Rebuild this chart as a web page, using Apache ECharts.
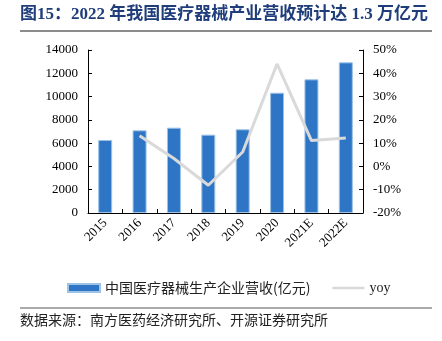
<!DOCTYPE html>
<html><head><meta charset="utf-8">
<script src="https://cdn.jsdelivr.net/npm/echarts@6/dist/echarts.min.js"></script>
<style>html,body{margin:0;padding:0;background:#fff}#c{width:442px;height:341px}</style>
</head><body><div id="c"></div>
<script>
const categories = ['2015','2016','2017','2018','2019','2020','2021E','2022E'];
const revenue = [6270, 7100, 7330, 6730, 7190, 10330, 11480, 12940];
const yoy = [null, 13.2, 3.4, -8.1, 6.2, 44.0, 11.1, 12.2];
const leftTicks = [0, 14000, 2000];
const rightTicks = [-20, 50, 10];
const serif = '"Liberation Serif","DejaVu Serif",serif';
const cjk = '"Noto Sans CJK SC",sans-serif';
const chart = echarts.init(document.getElementById('c'));
chart.setOption({
  animation: false,
  grid: {left: 88, right: 79, top: 50, bottom: 128},
  legend: {
    top: 276, left: 62, itemGap: 22, itemWidth: 32, itemHeight: 8,
    textStyle: {fontFamily: cjk, fontSize: 14, color: '#222'},
    data: [
      {name: '中国医疗器械生产企业营收(亿元)', icon: 'rect'},
      {name: 'yoy', icon: 'path://M0,0L32,0L32,2.5L0,2.5Z', textStyle: {fontFamily: serif, fontSize: 14}}
    ]
  },
  xAxis: {
    type: 'category', data: categories,
    axisLine: {lineStyle: {color: '#000', width: 1}},
    axisTick: {show: true, inside: true, length: 4, lineStyle: {color: '#000'}},
    axisLabel: {rotate: 45, fontFamily: serif, fontSize: 13, color: '#000', margin: 8}
  },
  yAxis: [{
    type: 'value', min: leftTicks[0], max: leftTicks[1], interval: leftTicks[2],
    splitLine: {show: false},
    axisLine: {show: true, lineStyle: {color: '#000'}},
    axisTick: {show: true, inside: true, length: 4, lineStyle: {color: '#000'}},
    axisLabel: {fontFamily: serif, fontSize: 13, color: '#000', margin: 10, formatter: v => String(v)}
  }, {
    type: 'value', min: rightTicks[0], max: rightTicks[1], interval: rightTicks[2],
    splitLine: {show: false},
    axisLine: {show: true, lineStyle: {color: '#000'}},
    axisTick: {show: true, inside: true, length: 4, lineStyle: {color: '#000'}},
    axisLabel: {fontFamily: serif, fontSize: 13, color: '#000', margin: 10, formatter: '{value}%'}
  }],
  series: [{
    name: '中国医疗器械生产企业营收(亿元)', type: 'bar', data: revenue, barWidth: 14,
    itemStyle: {color: '#2E75C6', borderColor: '#9DC3E6', borderWidth: 1}
  }, {
    name: 'yoy', type: 'line', yAxisIndex: 1, data: yoy, symbol: 'none',
    lineStyle: {color: '#D9D9D9', width: 3}, itemStyle: {color: '#D9D9D9'}
  }],
  graphic: [
    {type: 'text', left: 20, top: 6, style: {text: '图15：2022 年我国医疗器械产业营收预计达 1.3 万亿元', font: 'bold 17px "Liberation Serif","Noto Sans CJK SC",serif', fill: '#1F3D7A'}},
    {type: 'line', shape: {x1: 20, y1: 31, x2: 432, y2: 31}, style: {stroke: '#666', lineWidth: 1.5}},
    {type: 'line', shape: {x1: 20, y1: 308, x2: 432, y2: 308}, style: {stroke: '#555', lineWidth: 1}},
    {type: 'text', left: 20, top: 313, style: {text: '数据来源：南方医药经济研究所、开源证券研究所', font: '14px "Noto Sans CJK SC",sans-serif', fill: '#222'}}
  ]
});
</script></body></html>
